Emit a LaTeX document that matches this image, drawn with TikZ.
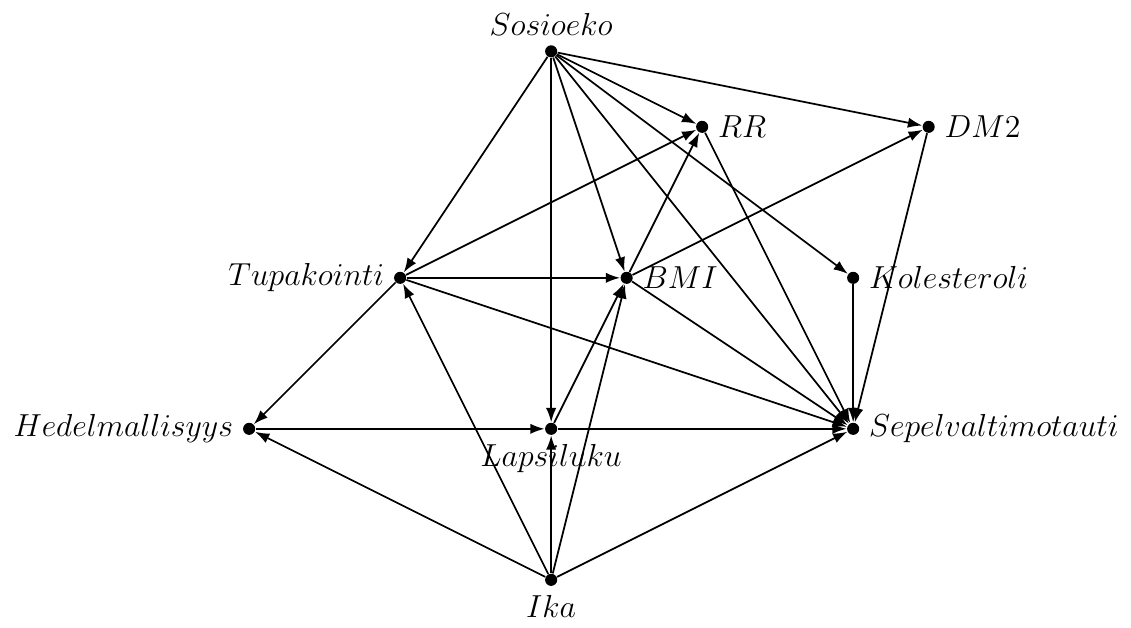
\documentclass[tikz,border=0pt]{standalone}
\usetikzlibrary{arrows.meta}
\begin{document}
\begin{tikzpicture}[x=1cm,y=1cm,
  dot/.style={circle,fill=black,inner sep=0pt,minimum size=0.16cm,label distance=0pt},
  edge/.style={-{Latex[length=5.4pt,width=3.9pt]},line width=0.65pt},
  every label/.style={font=\fontsize{12.2}{14}\selectfont}]
\useasboundingbox (-3.30,-0.636) rectangle (11.68,7.68);
\node[dot,label=above:$Sosioeko$] (S) at (4,7) {};
\node[dot,label=right:$RR$] (RR) at (6,6) {};
\node[dot,label=right:$DM2$] (DM) at (9,6) {};
\node[dot,label=left:$Tupakointi$] (T) at (2,4) {};
\node[dot,label=right:$BMI$] (B) at (5,4) {};
\node[dot,label=right:$Kolesteroli$] (K) at (8,4) {};
\node[dot,label=left:$Hedelmallisyys$] (H) at (0,2) {};
\node[dot,label=below:$Lapsiluku$] (L) at (4,2) {};
\node[dot,label=right:$Sepelvaltimotauti$] (SV) at (8,2) {};
\node[dot,label=below:$Ika$] (I) at (4,0) {};
\foreach \a/\b in {S/RR,S/DM,S/T,S/B,S/L,S/K,S/SV,
  T/RR,T/B,T/SV,T/H,
  B/RR,B/DM,B/SV,
  RR/SV,DM/SV,K/SV,
  H/L,L/B,L/SV,
  I/H,I/T,I/L,I/B,I/SV}
  \draw[edge] (\a) -- (\b);
\end{tikzpicture}
\end{document}
